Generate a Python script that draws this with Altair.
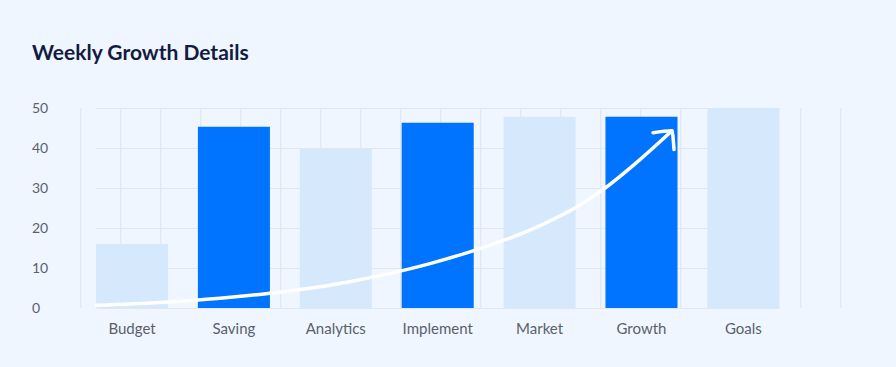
import altair as alt
import pandas as pd

# ---- data ----
categories = ["Budget", "Saving", "Analytics", "Implement", "Market", "Growth", "Goals"]
values = [16, 45.3, 39.8, 46.3, 47.8, 47.8, 50]
y_ticks = [0, 10, 20, 30, 40, 50]

# decorative growth arrow, x in category-index units, y in value units
curve_x = [-0.36, 0.268, 0.857, 1.347, 1.936, 2.427, 2.918, 3.34, 3.673, 3.997, 4.36, 4.615, 4.978, 5.292]
curve_y = [0.7, 1.4, 2.45, 3.7, 5.7, 8.1, 11.1, 14.3, 17.2, 20.6, 25.3, 29.6, 37.1, 44.3]
head_x = [5.106, 5.292, 5.312]
head_y = [43.8, 44.3, 39.6]

# vertical background grid, one line per unit
grid_cols = list(range(20))

# ---- styles ----
BG = "#EFF6FF"
DARK = "#0174FF"
LIGHT = "#D5E8FC"
GRID = "#E2E7EE"
FONT = "Lato"
LABEL = "#5B5F6E"

bars_df = pd.DataFrame({
    "cat": categories,
    "val": values,
    "kind": ["dark" if i % 2 else "light" for i in range(len(categories))],
})
curve_df = pd.DataFrame({
    "cx": curve_x + head_x,
    "val": curve_y + head_y,
    "part": ["curve"] * len(curve_x) + ["head"] * len(head_x),
    "seq": list(range(len(curve_x))) + list(range(len(head_x))),
})
grid_df = pd.DataFrame({"g": grid_cols})

y_axis = alt.Axis(
    values=y_ticks, labelFont=FONT, labelFontSize=14, labelColor=LABEL,
    labelAlign="left", labelPadding=35.5, labelOverlap=False,
    ticks=False, tickSize=0, domain=False, grid=True, gridColor=GRID, gridWidth=1.2,
)
y_scale = alt.Scale(domain=[0, 50], nice=False)

vgrid = alt.Chart(grid_df).mark_rule(color=GRID, strokeWidth=1.2).encode(
    x=alt.X("g:Q", axis=None, scale=alt.Scale(domain=[-0.3425, 19.2575], nice=False, zero=False)),
)

bars = alt.Chart(bars_df).mark_bar().encode(
    x=alt.X(
        "cat:N",
        sort=categories,
        title=None,
        scale=alt.Scale(range=[29, 712.4], paddingInner=0.293, paddingOuter=0),
        axis=alt.Axis(
            labelAngle=0, labelFont=FONT, labelFontSize=15, labelColor=LABEL,
            labelPadding=13, ticks=False, tickSize=0, domain=False, grid=False,
        ),
    ),
    y=alt.Y("val:Q", title=None, scale=y_scale, axis=y_axis),
    color=alt.Color("kind:N", scale=alt.Scale(domain=["light", "dark"], range=[LIGHT, DARK]), legend=None),
)

arrow = alt.Chart(curve_df).mark_line(
    color="white", strokeWidth=3.5, strokeCap="round", strokeJoin="round", interpolate="monotone"
).encode(
    x=alt.X("cx:Q", axis=None, scale=alt.Scale(domain=[-0.645, 7.049], nice=False, zero=False)),
    y=alt.Y("val:Q", title=None, scale=y_scale, axis=y_axis),
    detail="part:N",
    order="seq:Q",
)

chart = alt.layer(vgrid, bars, arrow).resolve_scale(x="independent").properties(
    width=784,
    height=200,
    autosize=alt.AutoSizeParams(type="none"),
    padding={"left": 67, "top": 108, "right": 45, "bottom": 59},
    background=BG,
    title=alt.TitleParams(
        "Weekly Growth Details", anchor="start", frame="group", dx=-35, offset=20,
        baseline="alphabetic", font=FONT, fontSize=21, fontWeight="bold", color="#141B41",
    ),
).configure_view(stroke=None)

chart.save("out.html", embed_options={"renderer": "svg", "actions": False})
